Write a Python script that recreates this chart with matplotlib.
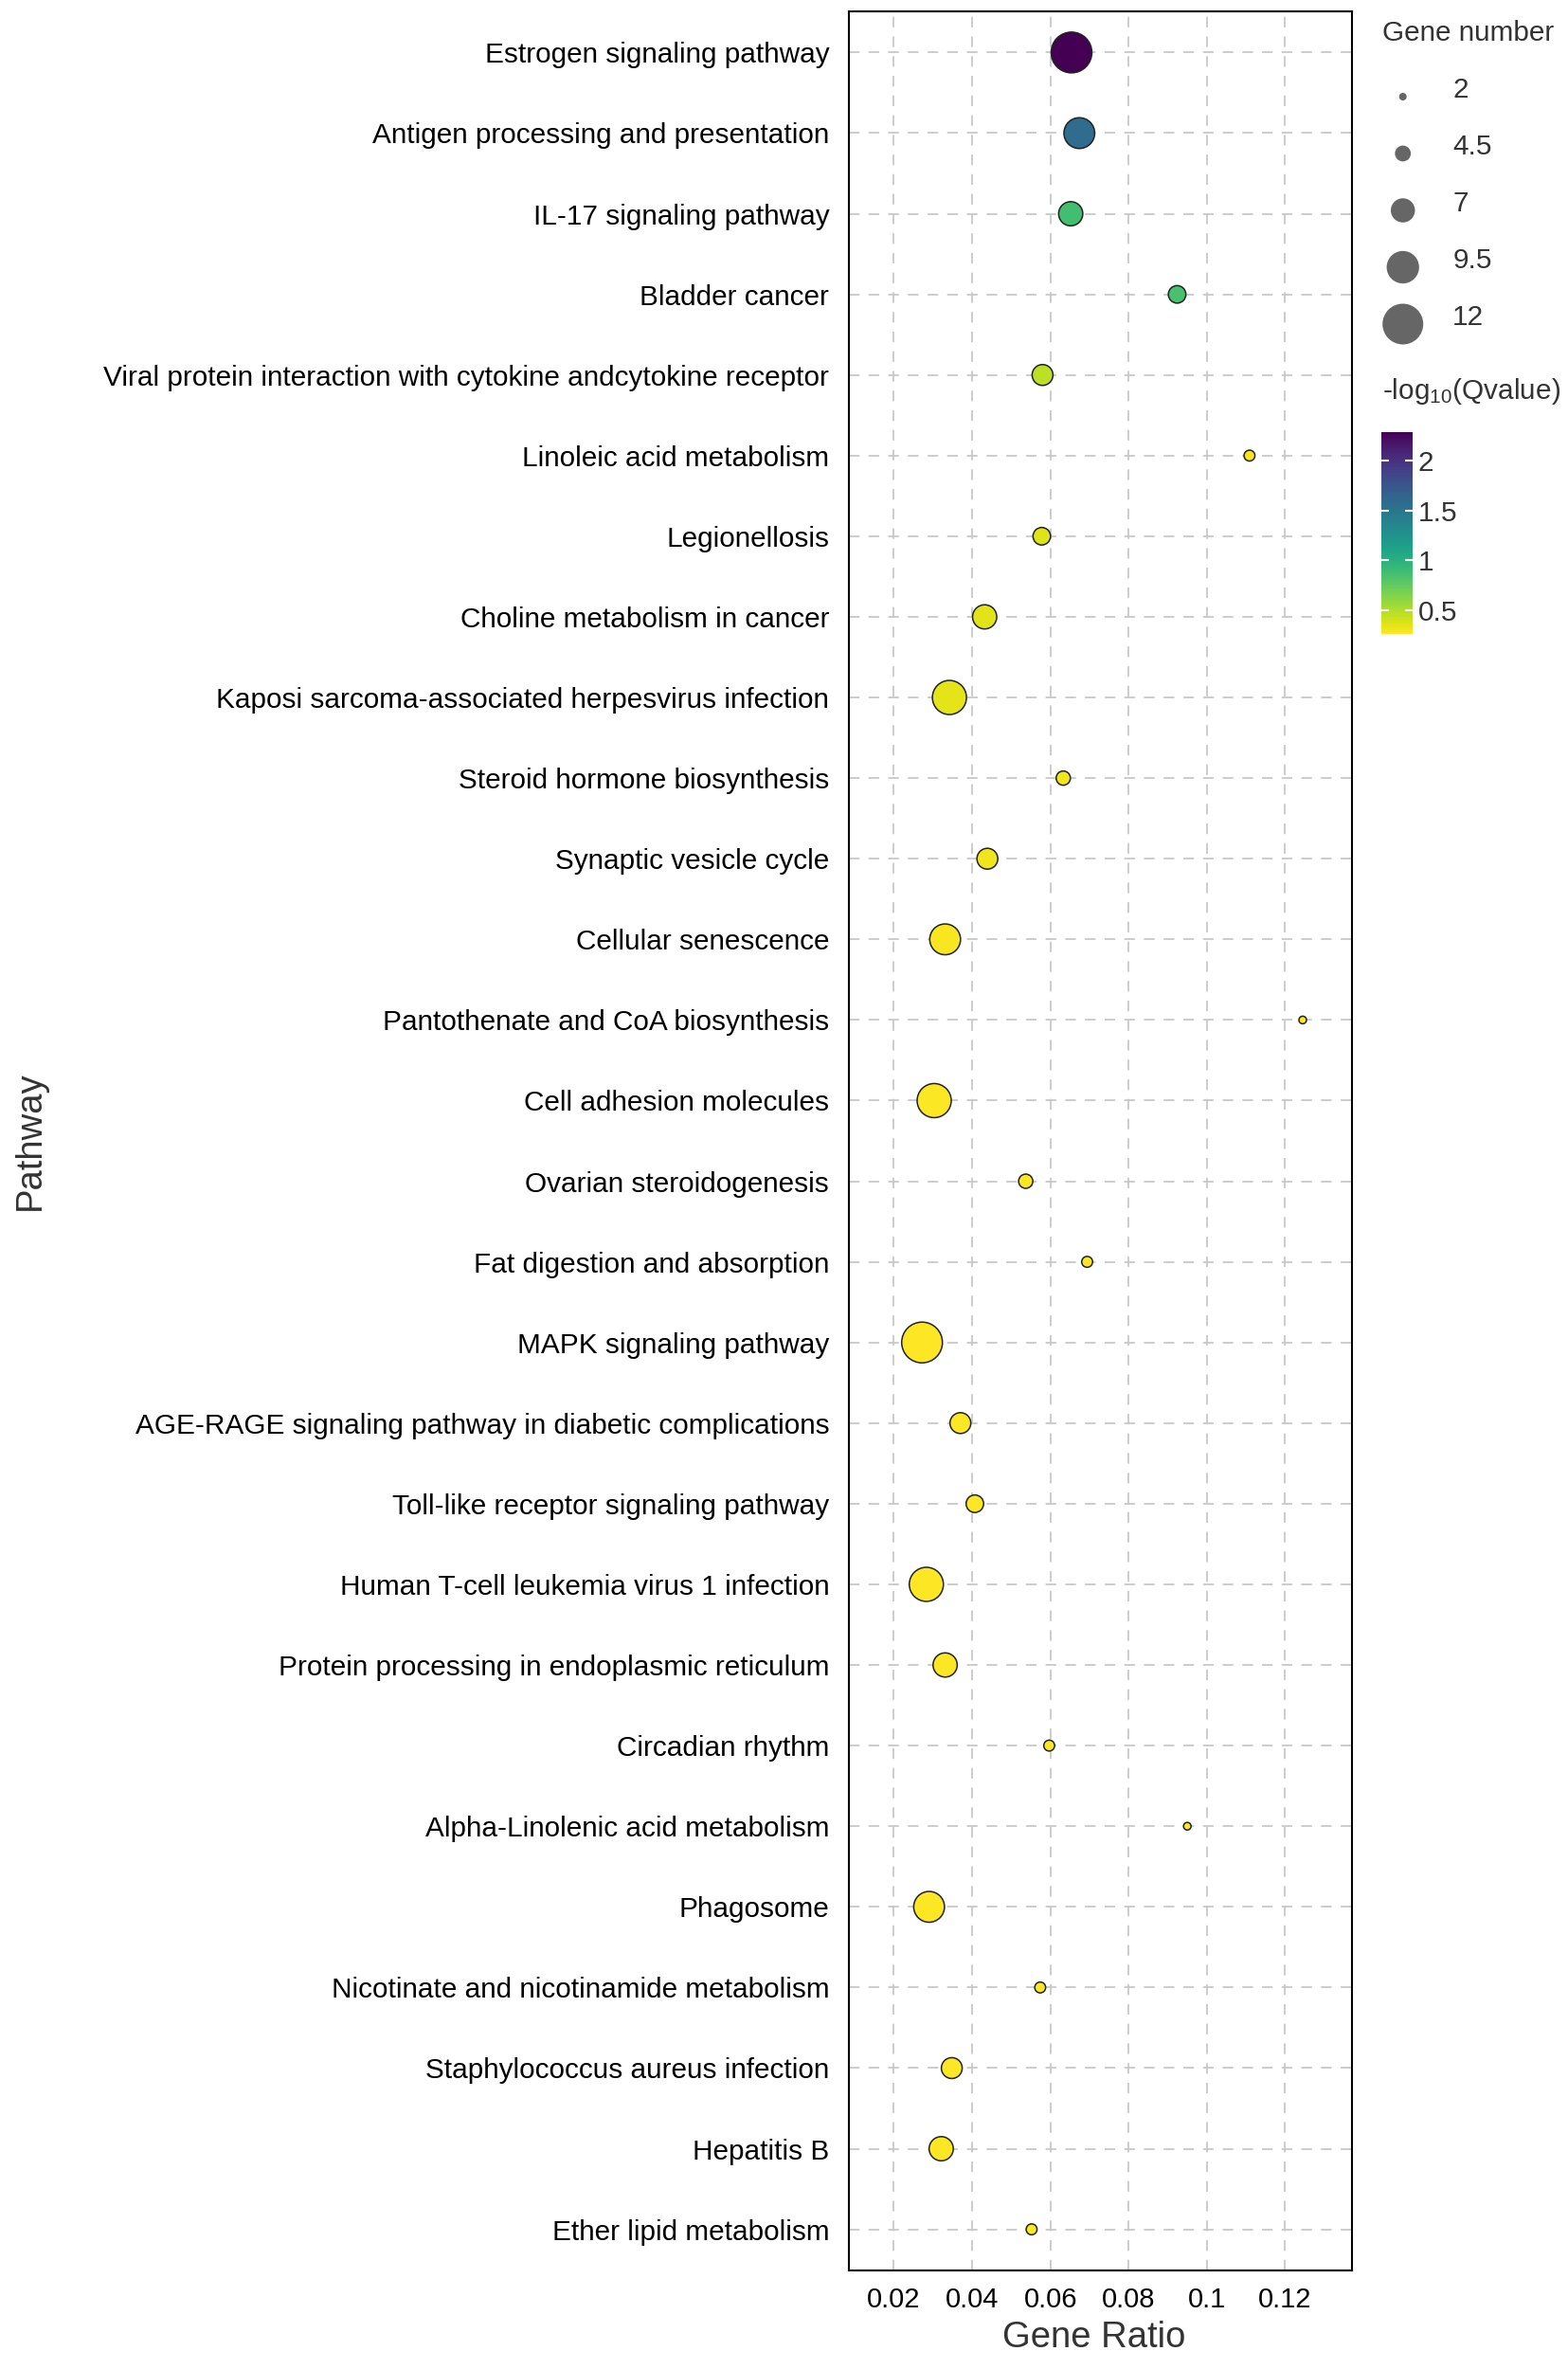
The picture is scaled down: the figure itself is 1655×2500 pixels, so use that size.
import numpy as np
import matplotlib.pyplot as plt
from matplotlib import colors

plt.rcParams['font.family'] = ['Liberation Sans', 'DejaVu Sans']
plt.rcParams['mathtext.fontset'] = 'custom'
plt.rcParams['mathtext.rm'] = 'Liberation Sans'
plt.rcParams['mathtext.it'] = 'Liberation Sans:italic'

# Données (de haut en bas)
pathways = [
    "Estrogen signaling pathway",
    "Antigen processing and presentation",
    "IL-17 signaling pathway",
    "Bladder cancer",
    "Viral protein interaction with cytokine andcytokine receptor",
    "Linoleic acid metabolism",
    "Legionellosis",
    "Choline metabolism in cancer",
    "Kaposi sarcoma-associated herpesvirus infection",
    "Steroid hormone biosynthesis",
    "Synaptic vesicle cycle",
    "Cellular senescence",
    "Pantothenate and CoA biosynthesis",
    "Cell adhesion molecules",
    "Ovarian steroidogenesis",
    "Fat digestion and absorption",
    "MAPK signaling pathway",
    "AGE-RAGE signaling pathway in diabetic complications",
    "Toll-like receptor signaling pathway",
    "Human T-cell leukemia virus 1 infection",
    "Protein processing in endoplasmic reticulum",
    "Circadian rhythm",
    "Alpha-Linolenic acid metabolism",
    "Phagosome",
    "Nicotinate and nicotinamide metabolism",
    "Staphylococcus aureus infection",
    "Hepatitis B",
    "Ether lipid metabolism",
]

gene_ratio = [0.0654, 0.0674, 0.0652, 0.0924, 0.0580, 0.1109, 0.0578, 0.0432,
              0.0342, 0.0633, 0.0439, 0.0331, 0.1245, 0.0303, 0.0537, 0.0694,
              0.0272, 0.0370, 0.0407, 0.0283, 0.0331, 0.0597, 0.0950, 0.0290,
              0.0574, 0.0348, 0.0321, 0.0552]

gene_number = [12, 9, 7, 5, 6, 3, 5, 7, 10, 4, 6, 9, 2, 10, 4, 3, 12, 6, 5, 10,
               7, 3, 2, 9, 3, 6, 7, 3]

neg_log_q = [2.285, 1.58, 0.87, 0.85, 0.46, 0.29, 0.36, 0.35, 0.34, 0.30, 0.30,
             0.28, 0.27, 0.27, 0.27, 0.26, 0.26, 0.27, 0.27, 0.26, 0.27, 0.27,
             0.27, 0.26, 0.27, 0.27, 0.27, 0.27]

size_breaks = [2, 4.5, 7, 9.5, 12]
size_labels = ["2", "4.5", "7", "9.5", "12"]
ratio_ticks = [0.02, 0.04, 0.06, 0.08, 0.10, 0.12]
ratio_labels = ["0.02", "0.04", "0.06", "0.08", "0.1", "0.12"]
q_ticks = [0.5, 1, 1.5, 2]
q_labels = ["0.5", "1", "1.5", "2"]

DPI = 100
W, H = 1656, 2500


def aire_marqueur(n):
    """Diamètre (px) linéaire en fonction du nombre de gènes -> aire en pt^2."""
    diam = 8 + 3.5 * (np.asarray(n, dtype=float) - 2)
    return (diam * 72 / DPI) ** 2


fig = plt.figure(figsize=(W / DPI, H / DPI), dpi=DPI)

# Panneau principal
ax = fig.add_axes([896 / W, 1 - 2396 / H, 531 / W, 2384 / H])
y = np.arange(len(pathways))
norm = colors.Normalize(vmin=0.26, vmax=2.285)

ax.grid(True, color="#c8c8c8", linestyle=(0, (6.2, 5.3)), linewidth=1.3)
ax.set_axisbelow(True)

sc = ax.scatter(gene_ratio, y, s=aire_marqueur(gene_number), c=neg_log_q,
                cmap="viridis_r", norm=norm, edgecolors="#222222",
                linewidths=1.1, zorder=3)

ax.set_xlim(0.0085, 0.1371)
ax.set_ylim(len(pathways) - 1 + 0.51, -0.51)
ax.set_yticks(y)
ax.set_yticklabels(pathways)
ax.set_xticks(ratio_ticks)
ax.set_xticklabels(ratio_labels)
ax.tick_params(axis="y", length=0, pad=15, labelsize=21.4, labelcolor="black")
ax.tick_params(axis="x", length=0, pad=12, labelsize=21, labelcolor="black")
for sp in ax.spines.values():
    sp.set_linewidth(1.5)
    sp.set_color("black")

ax.set_xlabel("Gene Ratio", fontsize=27.5, color="#333333")
ax.set_ylabel("Pathway", fontsize=27.5, color="#333333")
ax.xaxis.label.set_va("center")
ax.yaxis.label.set_va("center")
ax.xaxis.set_label_coords(0.488, -(2467 - 2396) / 2384)
ax.yaxis.set_label_coords((32 - 896) / 531, 0.5)

# Légende des tailles
fig.text(1459 / W, 1 - 35 / H, "Gene number", ha="left", va="center",
         fontsize=21.4, color="#333333")
leg_ax = fig.add_axes([1459 / W, 1 - 372 / H, 181 / W, 300 / H])
leg_ax.axis("off")
leg_ax.set_xlim(0, 1)
leg_ax.set_ylim(len(size_breaks) - 0.5, -0.5)
idx = np.arange(len(size_breaks))
leg_ax.scatter(np.full(len(size_breaks), 0.12), idx, s=aire_marqueur(size_breaks),
               color="#666666", edgecolors="none")
for i, lab in enumerate(size_labels):
    leg_ax.text(0.41, i - 0.12, lab, ha="left", va="center", fontsize=21.4,
                color="#333333")

# Barre de couleur
fig.text(1459 / W, 1 - 413 / H, r"-log$_{\mathrm{10}}$(Qvalue)", ha="left",
         va="center", fontsize=21.4, color="#333333")
cax = fig.add_axes([1458 / W, 1 - 669 / H, 33 / W, 213 / H])
cb = fig.colorbar(sc, cax=cax, ticks=q_ticks)
cb.outline.set_visible(False)
cb.ax.set_yticklabels(q_labels)
cax.tick_params(direction="in", left=True, right=True, length=6, width=1.5,
                color="white", labelsize=21.4, labelcolor="#333333", pad=4)

fig.savefig("out.png", dpi=DPI)
